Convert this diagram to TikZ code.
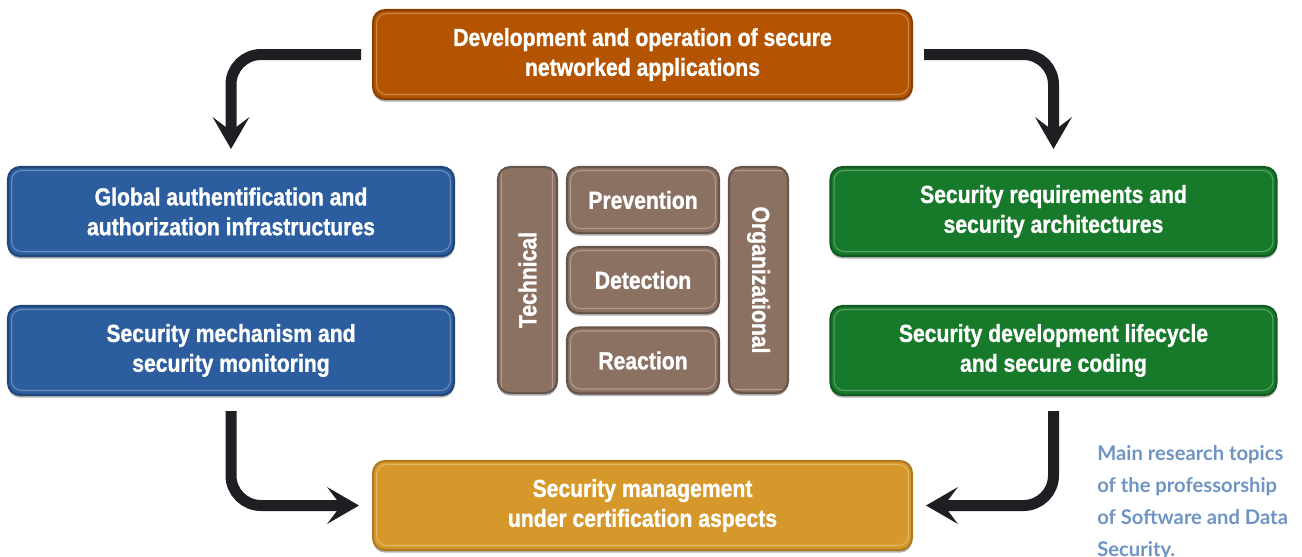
\documentclass[tikz,border=0pt]{standalone}
\usepackage{fontspec}
\setsansfont{Liberation Sans}[FakeStretch=0.86, BoldFeatures={FakeBold=1.1}]
\newfontfamily\notefont{Lato}
\usetikzlibrary{arrows.meta, shadows}

\definecolor{devorange}{HTML}{B55400}
\definecolor{authblue}{HTML}{2C5E9F}
\definecolor{reqgreen}{HTML}{17792A}
\definecolor{mgmtyellow}{HTML}{D6982A}
\definecolor{aspectbrown}{HTML}{8B7161}
\definecolor{arrowblack}{HTML}{1E1F23}
\definecolor{notecolor}{HTML}{6F94C3}

\def \BoxW {10.78cm}
\def \SideW {8.92cm}
\def \BoxH {1.78cm}

\tikzstyle{box}=[
  rounded corners=0.24cm,
  line width=1.2pt,
  align=center,
  text=white,
  minimum height=\BoxH,
  drop shadow={shadow xshift=0pt, shadow yshift=-1.5pt, fill=black, opacity=0.3},
  path picture={
    \draw[white, opacity=0.3, line width=0.6pt, rounded corners=0.2cm]
      ([shift={(0.07cm,-0.07cm)}]path picture bounding box.north west) rectangle
      ([shift={(-0.07cm,0.09cm)}]path picture bounding box.south east);
  },
  font=\sffamily\bfseries\fontsize{14}{17}\selectfont
]
\tikzstyle{topic}=[box, execute at begin node={\rule{0pt}{13.8pt}}]
\tikzstyle{orangebox}=[topic, fill=devorange, draw=devorange!75!black]
\tikzstyle{bluebox}=[topic, fill=authblue, draw=authblue!75!black]
\tikzstyle{greenbox}=[topic, fill=reqgreen, draw=reqgreen!75!black]
\tikzstyle{yellowbox}=[topic, fill=mgmtyellow, draw=mgmtyellow!80!black]
\tikzstyle{aspect}=[box, fill=aspectbrown, draw=aspectbrown!75!black]
\tikzstyle{flow}=[
  draw=arrowblack,
  line width=0.22cm,
  rounded corners=0.6cm,
  -{Stealth[length=0.64cm, width=0.74cm, inset=0.28cm, line width=0pt]}
]

\begin{document}
\begin{tikzpicture}[x=0.02cm, y=-0.02cm]
  \useasboundingbox (0,0) rectangle (1302,556);

  % outer ring of topics
  \node[orangebox, minimum width=\BoxW] (dev) at (642.5,54.5)
    {Development and operation of secure\\networked applications};
  \node[bluebox, minimum width=\SideW] (auth) at (231,211.5)
    {Global authentification and\\authorization infrastructures};
  \node[bluebox, minimum width=\SideW] (mech) at (231,350.5)
    {Security mechanism and\\security monitoring};
  \node[greenbox, minimum width=\SideW] (req) at (1053.5,211.5)
    {Security requirements and\\security architectures};
  \node[greenbox, minimum width=\SideW] (sdl) at (1053.5,350.5)
    {Security development lifecycle\\and secure coding};
  \node[yellowbox, minimum width=\BoxW] (mgmt) at (642.5,505.5)
    {Security management\\under certification aspects};

  % centre block
  \node[aspect, rotate=90, minimum width=4.52cm, minimum height=1.18cm]
    (tech) at (527.5,280) {Technical};
  \node[aspect, rotate=-90, minimum width=4.52cm, minimum height=1.18cm]
    (org) at (758.5,280) {Organizational};
  \foreach \name/\y/\txt in {prev/200/Prevention, det/280/Detection, reac/360.5/Reaction}{
    \node[aspect, minimum width=3.04cm, minimum height=1.32cm] (\name) at (643,\y) {\txt};
  }

  % arrows
  \draw[flow, shorten <=0.22cm, shorten >=0.34cm] (dev.west) -| (auth.north);
  \draw[flow, shorten <=0.22cm, shorten >=0.34cm] (dev.east) -| (req.north);
  \draw[flow, shorten <=0.3cm, shorten >=0.26cm] (mech.south) |- (mgmt.west);
  \draw[flow, shorten <=0.3cm, shorten >=0.26cm] (sdl.south) |- (mgmt.east);

  \node[anchor=north west, align=left, text=notecolor, inner xsep=0pt,
    font=\notefont\bfseries\fontsize{11.5}{18.2}\selectfont]
    (note) at (1097,439) {Main research topics\\of the professorship\\of Software and Data\\Security.};
\end{tikzpicture}
\end{document}
